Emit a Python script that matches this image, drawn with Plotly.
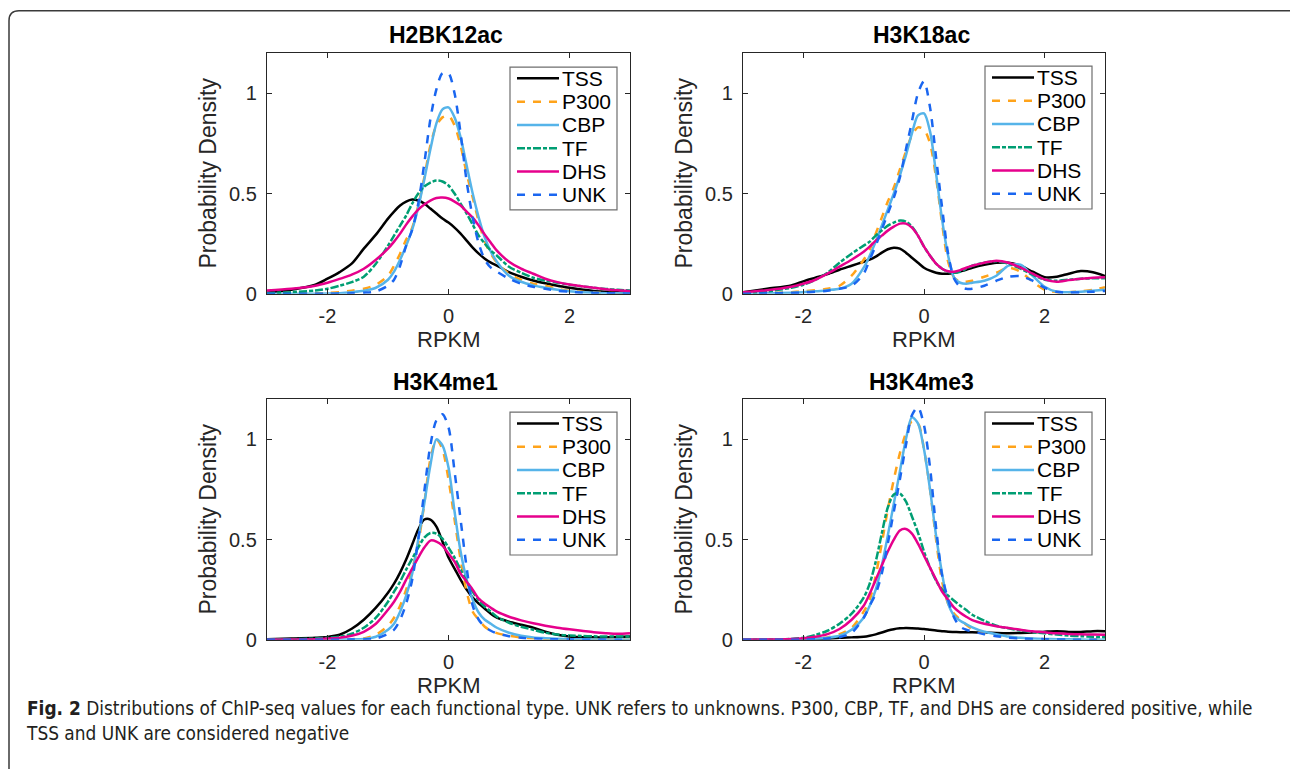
import plotly.graph_objects as go

# ---------------------------------------------------------------------------
# Density estimates (RPKM on a shared x grid)
# ---------------------------------------------------------------------------
X_GRID = [-3.0, -2.6, -2.2, -2.0, -1.8, -1.6, -1.4, -1.2, -1.0,
          -0.9, -0.8, -0.7, -0.6, -0.5, -0.4, -0.3, -0.2, -0.1,
          0.0, 0.1, 0.2, 0.3, 0.4, 0.5, 0.6, 0.7, 0.8,
          1.0, 1.2, 1.4, 1.6, 1.8, 2.0, 2.2, 2.4, 2.6, 2.8, 3.0]

SERIES = ["TSS", "P300", "CBP", "TF", "DHS", "UNK"]
MARKS = ["H2BK12ac", "H3K18ac", "H3K4me1", "H3K4me3"]

# H2BK12ac
H2BK12AC_TSS = [.005, .02, .045, .075, .108, .15, .225, .295, .375,
                .41, .44, .46, .47, .465, .45, .425, .4, .375,
                .355, .33, .3, .265, .23, .2, .175, .155, .14,
                .108, .085, .066, .052, .04, .03, .021, .014, .01, .007, .005]
H2BK12AC_P300 = [0, 0, .002, .004, .008, .015, .025, .045, .09,
                 .14, .2, .27, .33, .44, .58, .74, .84, .88,
                 .89, .84, .74, .6, .48, .36, .26, .2, .155,
                 .1, .07, .05, .04, .025, .015, .01, .006, .004, .003, .002]
H2BK12AC_CBP = [0, 0, 0, .001, .003, .008, .015, .03, .07,
                .11, .17, .24, .32, .43, .57, .72, .85, .92,
                .93, .88, .78, .64, .5, .38, .28, .21, .16,
                .09, .06, .042, .03, .02, .013, .008, .005, .003, .002, .001]
H2BK12AC_TF = [.003, .008, .016, .025, .04, .058, .085, .15, .24,
               .29, .34, .39, .45, .5, .535, .555, .565, .56,
               .54, .5, .45, .4, .345, .29, .25, .215, .19,
               .135, .105, .08, .066, .055, .045, .037, .03, .024, .02, .016]
H2BK12AC_DHS = [.016, .025, .04, .055, .074, .095, .125, .17, .225,
                .26, .3, .345, .385, .42, .445, .465, .478, .48,
                .475, .46, .44, .41, .38, .34, .295, .255, .215,
                .16, .125, .1, .075, .058, .046, .038, .03, .023, .017, .013]
H2BK12AC_UNK = [0, 0, 0, 0, .001, .002, .005, .012, .04,
                .07, .14, .24, .32, .45, .65, .87, 1.02, 1.1,
                1.1, 1.0, .8, .56, .38, .25, .17, .13, .11,
                .075, .05, .035, .025, .015, .01, .006, .004, .003, .002, .001]

# H3K18ac
H3K18AC_TSS = [.008, .025, .042, .062, .08, .098, .12, .14, .16,
               .17, .185, .205, .222, .23, .225, .205, .18, .155,
               .13, .115, .105, .1, .1, .105, .112, .12, .13,
               .145, .155, .155, .14, .11, .083, .085, .1, .113, .107, .088]
H3K18AC_P300 = [0, .003, .008, .012, .018, .025, .04, .09, .17,
                .22, .3, .38, .46, .53, .62, .71, .79, .83,
                .82, .75, .58, .35, .16, .08, .06, .06, .065,
                .085, .105, .13, .11, .06, .02, .008, .008, .012, .02, .033]
H3K18AC_CBP = [0, .002, .005, .008, .012, .018, .025, .05, .13,
               .19, .26, .34, .42, .5, .59, .69, .8, .89,
               .9, .81, .6, .37, .19, .08, .055, .05, .055,
               .065, .09, .14, .145, .09, .035, .01, .008, .01, .015, .02]
H3K18AC_TF = [.003, .012, .03, .045, .07, .105, .155, .2, .24,
              .26, .29, .315, .34, .355, .365, .36, .335, .29,
              .235, .19, .15, .125, .11, .105, .11, .125, .14,
              .155, .162, .15, .125, .095, .07, .065, .07, .075, .077, .077]
H3K18AC_DHS = [.008, .018, .035, .05, .07, .1, .135, .17, .21,
               .235, .265, .29, .315, .335, .35, .35, .33, .29,
               .235, .19, .15, .125, .112, .11, .118, .13, .14,
               .155, .165, .155, .13, .1, .072, .06, .068, .075, .08, .082]
H3K18AC_UNK = [0, .002, .004, .006, .01, .015, .025, .04, .1,
               .17, .24, .32, .4, .48, .58, .72, .86, 1.0,
               1.06, .93, .68, .43, .2, .075, .035, .025, .025,
               .04, .065, .085, .088, .065, .03, .01, .006, .007, .01, .014]

# H3K4me1
H3K4ME1_TSS = [.003, .006, .01, .014, .025, .055, .1, .16, .235,
               .28, .335, .4, .475, .55, .6, .6, .565, .49,
               .41, .355, .3, .25, .21, .18, .155, .13, .11,
               .09, .075, .06, .04, .025, .016, .013, .012, .012, .014, .016]
H3K4ME1_P300 = [0, 0, 0, 0, .001, .003, .006, .025, .07,
                .11, .17, .25, .35, .48, .68, .9, 1.0, .95,
                .8, .6, .4, .24, .14, .1, .065, .045, .033,
                .02, .012, .007, .004, .003, .002, .001, 0, 0, 0, 0]
H3K4ME1_CBP = [0, 0, 0, 0, .001, .002, .004, .015, .05,
               .08, .14, .22, .33, .5, .68, .87, 1.0, .97,
               .86, .64, .44, .3, .2, .135, .1, .08, .06,
               .035, .02, .012, .008, .005, .003, .002, .001, 0, 0, 0]
H3K4ME1_TF = [.002, .003, .006, .01, .016, .03, .06, .11, .19,
              .24, .29, .35, .405, .46, .51, .533, .53, .505,
              .46, .41, .35, .29, .24, .195, .165, .14, .115,
              .085, .065, .05, .035, .026, .021, .019, .017, .016, .016, .016]
H3K4ME1_DHS = [0, .001, .003, .006, .01, .02, .04, .08, .15,
               .19, .24, .3, .355, .41, .46, .495, .49, .47,
               .43, .39, .33, .29, .25, .205, .18, .16, .14,
               .115, .097, .082, .07, .06, .052, .045, .038, .033, .03, .033]
H3K4ME1_UNK = [0, 0, 0, 0, 0, .001, .002, .006, .03,
               .05, .1, .18, .3, .5, .74, .97, 1.095, 1.125,
               1.06, .84, .6, .36, .17, .1, .065, .045, .032,
               .018, .01, .006, .004, .002, .001, 0, 0, 0, 0, 0]

# H3K4me3
H3K4ME3_TSS = [0, 0, .001, .002, .004, .006, .01, .012, .015,
               .02, .027, .036, .046, .053, .057, .059, .058, .056,
               .054, .05, .046, .043, .04, .039, .038, .038, .038,
               .036, .034, .033, .034, .036, .04, .043, .039, .039, .043, .043]
H3K4ME3_P300 = [0, 0, .001, .003, .006, .012, .028, .06, .14,
                .2, .32, .48, .65, .8, .93, 1.03, 1.09, 1.08,
                .95, .75, .5, .29, .18, .13, .1, .075, .055,
                .035, .022, .012, .008, .005, .003, .002, .001, 0, 0, 0]
H3K4ME3_CBP = [0, 0, 0, .002, .005, .01, .02, .05, .11,
               .17, .25, .37, .52, .68, .84, 1.0, 1.11, 1.08,
               .95, .75, .52, .33, .18, .12, .095, .078, .062,
               .04, .028, .016, .01, .006, .004, .003, .002, .001, 0, 0]
H3K4ME3_TF = [0, .001, .004, .01, .024, .045, .08, .13, .21,
              .28, .39, .53, .66, .725, .73, .69, .615, .535,
              .44, .36, .295, .25, .22, .195, .17, .148, .125,
              .095, .07, .057, .046, .038, .032, .026, .021, .018, .015, .013]
H3K4ME3_DHS = [0, .001, .004, .008, .015, .028, .054, .1, .17,
               .23, .3, .37, .44, .5, .545, .553, .53, .48,
               .42, .36, .3, .24, .2, .16, .135, .115, .098,
               .08, .068, .059, .05, .042, .037, .032, .029, .027, .026, .025]
H3K4ME3_UNK = [0, 0, 0, .001, .003, .006, .013, .035, .11,
               .17, .23, .33, .48, .64, .8, .97, 1.12, 1.16,
               1.07, .86, .56, .32, .2, .11, .065, .05, .042,
               .028, .018, .01, .006, .004, .003, .002, .001, 0, 0, 0]

PANEL_DATA = [
    [H2BK12AC_TSS, H2BK12AC_P300, H2BK12AC_CBP, H2BK12AC_TF, H2BK12AC_DHS, H2BK12AC_UNK],
    [H3K18AC_TSS, H3K18AC_P300, H3K18AC_CBP, H3K18AC_TF, H3K18AC_DHS, H3K18AC_UNK],
    [H3K4ME1_TSS, H3K4ME1_P300, H3K4ME1_CBP, H3K4ME1_TF, H3K4ME1_DHS, H3K4ME1_UNK],
    [H3K4ME3_TSS, H3K4ME3_P300, H3K4ME3_CBP, H3K4ME3_TF, H3K4ME3_DHS, H3K4ME3_UNK],
]

X_TICKS = [-2, 0, 2]
X_TICK_TEXT = ["-2", "0", "2"]
Y_TICKS = [0, 0.5, 1]
Y_TICK_TEXT = ["0", "0.5", "1"]

CAPTION = ("<b>Fig. 2</b> Distributions of ChIP-seq values for each functional type. "
           "UNK refers to unknowns. P300, CBP, TF, and DHS are considered positive, while"
           "<br>TSS and UNK are considered negative")

# ---------------------------------------------------------------------------
# Styling / layout
# ---------------------------------------------------------------------------
W, H = 1290, 774
FONT = "Liberation Sans, Arial, Helvetica, sans-serif"
INK = "#262626"
CURVE_WIDTH = 2.5

LINE_STYLE = {
    "TSS": dict(color="#000000", dash="solid"),
    "P300": dict(color="#FFA31A", dash="8px,8px"),
    "CBP": dict(color="#56B4E9", dash="solid"),
    "TF": dict(color="#009E73", dash="8px,2px,4px,2px"),
    "DHS": dict(color="#E6008C", dash="solid"),
    "UNK": dict(color="#1A66F0", dash="8px,8px"),
}

# plot boxes in pixels: (left, right, top, bottom)
BOXES = [(267, 630, 54, 298), (743, 1105, 54, 298),
         (267, 630, 405, 649), (743, 1105, 405, 649)]
# legend boxes: top-left corner in pixels
LEGEND_POS = [(510, 68), (985, 67), (510, 418), (985, 418)]
LEGEND_W, LEGEND_H, LEGEND_ROW = 107, 145, 23.6


def px(x):
    return x / W


def py(y):
    return 1 - y / H


fig = go.Figure()
annotations = []
shapes = []
layout = {}

for i, (mark, curves) in enumerate(zip(MARKS, PANEL_DATA)):
    n = "" if i == 0 else str(i + 1)
    left, right, top, bottom = BOXES[i]

    for name, ys in zip(SERIES, curves):
        st = LINE_STYLE[name]
        fig.add_trace(go.Scatter(
            x=X_GRID, y=ys, mode="lines", name=name, showlegend=False,
            line=dict(color=st["color"], dash=st["dash"], width=CURVE_WIDTH,
                      shape="spline", smoothing=0.8),
            xaxis="x" + n, yaxis="y" + n,
            hoverinfo="skip",
        ))

    common = dict(showgrid=False, zeroline=False, showline=True,
                  linecolor=INK, linewidth=1.4, mirror="ticks",
                  ticks="inside", ticklen=5, tickwidth=1.2, tickcolor=INK,
                  tickfont=dict(family=FONT, size=20, color=INK))
    layout["xaxis" + n] = dict(
        common, domain=[px(left), px(right)], range=[-3, 3],
        tickvals=X_TICKS, ticktext=X_TICK_TEXT, anchor="y" + n,
        ticklabelstandoff=4)
    layout["yaxis" + n] = dict(
        common, domain=[py(bottom), py(top)], range=[0, 1.2],
        tickvals=Y_TICKS, ticktext=Y_TICK_TEXT, anchor="x" + n,
        ticklabelstandoff=5)

    # per-panel legend: framed box with a line key and a label per series
    lx, ly = LEGEND_POS[i]
    shapes.append(dict(type="rect", xref="paper", yref="paper",
                       x0=px(lx), x1=px(lx + LEGEND_W),
                       y0=py(ly + LEGEND_H), y1=py(ly),
                       fillcolor="white", line=dict(color="#6e6e6e", width=1.2),
                       layer="above"))
    for k, name in enumerate(SERIES):
        st = LINE_STYLE[name]
        row_y = ly + 11.5 + k * LEGEND_ROW
        shapes.append(dict(type="line", xref="paper", yref="paper",
                           x0=px(lx + 7), x1=px(lx + 49),
                           y0=py(row_y), y1=py(row_y),
                           line=dict(color=st["color"], dash=st["dash"],
                                     width=CURVE_WIDTH),
                           layer="above"))
        annotations.append(dict(text=name, x=px(lx + 50), y=py(row_y),
                                xref="paper", yref="paper", showarrow=False,
                                xanchor="left", yanchor="middle",
                                font=dict(family=FONT, size=21, color="#000000")))

    cx = (left + right) / 2
    annotations.append(dict(text="<b>" + mark + "</b>", x=px(cx - 3), y=py(top - 18),
                            xref="paper", yref="paper", showarrow=False,
                            xanchor="center", yanchor="middle",
                            font=dict(family=FONT, size=23, color="#000000")))
    annotations.append(dict(text="RPKM", x=px(cx), y=py(bottom + 46),
                            xref="paper", yref="paper", showarrow=False,
                            xanchor="center", yanchor="middle",
                            font=dict(family=FONT, size=22, color=INK)))
    annotations.append(dict(text="Probability Density", x=px(left - 59),
                            y=py((top + bottom) / 2), textangle=-90,
                            xref="paper", yref="paper", showarrow=False,
                            xanchor="center", yanchor="middle",
                            font=dict(family=FONT, size=23, color=INK)))

annotations.append(dict(
    text=CAPTION, x=px(24), y=py(705), xref="paper", yref="paper",
    showarrow=False, xanchor="left", yanchor="top", align="left",
    font=dict(family="Liberation Sans Narrow, DejaVu Sans Condensed, sans-serif",
              size=18.9, color="#231F20")))

# rounded frame around the figure (open at right and bottom)
frame = (f"M {px(9)},{py(780)} L {px(9)},{py(21)} "
         f"Q {px(9)},{py(11)} {px(19)},{py(11)} L {px(1295)},{py(11)}")
shapes.append(dict(type="path", path=frame, xref="paper", yref="paper",
                   line=dict(color="#3a3a3a", width=1.5), layer="above"))

fig.update_layout(
    width=W, height=H,
    margin=dict(l=0, r=0, t=0, b=0),
    paper_bgcolor="white", plot_bgcolor="white",
    showlegend=False,
    annotations=annotations,
    shapes=shapes,
    **layout,
)

fig.write_html("out.html")
